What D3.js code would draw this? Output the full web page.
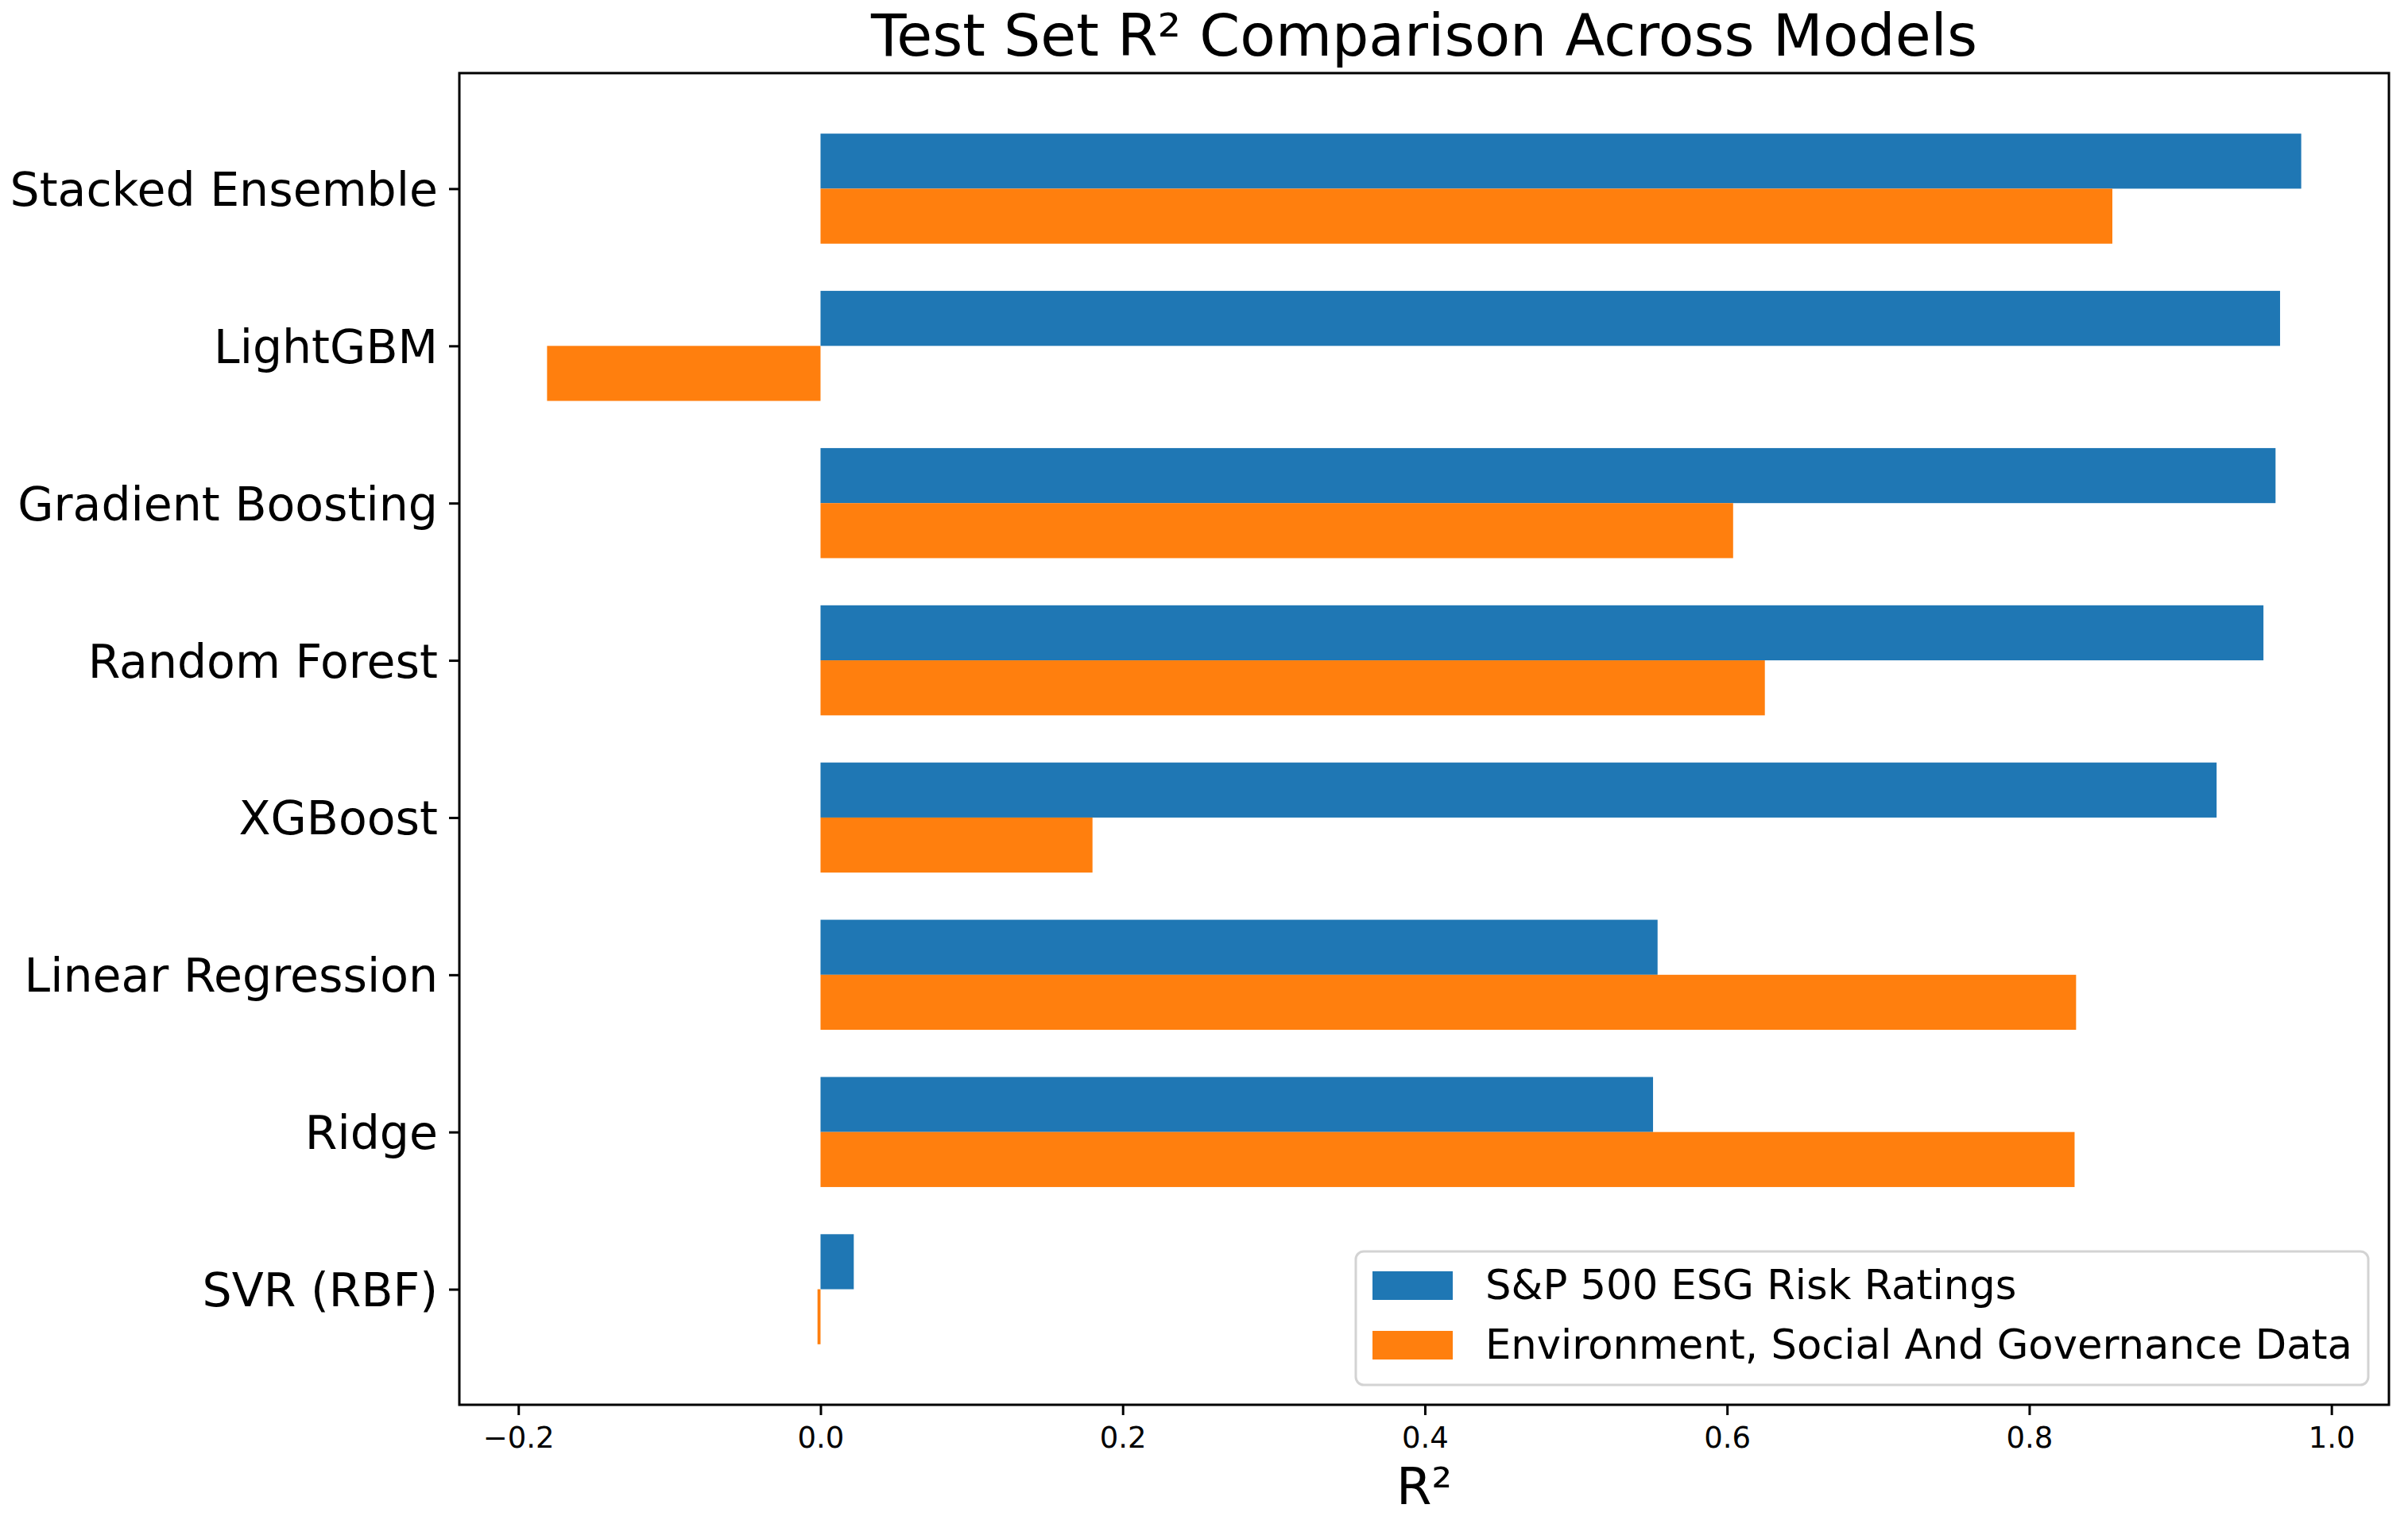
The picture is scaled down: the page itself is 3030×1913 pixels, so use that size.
<!DOCTYPE html>
<html>
<head>
<meta charset="utf-8">
<script src="https://cdn.jsdelivr.net/npm/d3@7"></script>
<style>
  body { margin: 0; background: #fff; }
  text { font-family: "DejaVu Sans", sans-serif; }
</style>
</head>
<body>
<div id="chart"></div>
<script>
var models = ['Stacked Ensemble', 'LightGBM', 'Gradient Boosting', 'Random Forest',
  'XGBoost', 'Linear Regression', 'Ridge', 'SVR (RBF)'];
var spScores = [0.980, 0.966, 0.963, 0.955, 0.924, 0.554, 0.551, 0.022];
var esgScores = [0.855, -0.181, 0.604, 0.625, 0.180, 0.831, 0.830, -0.002];
var seriesNames = ['S&P 500 ESG Risk Ratings', 'Environment, Social And Governance Data'];
var xTicks = [-0.2, 0.0, 0.2, 0.4, 0.6, 0.8, 1.0];

var width = 3030;
var height = 1913;
var margin = { top: 92, right: 24, bottom: 145, left: 578 };
var colors = ['#1f77b4', '#ff7f0e'];
var barH = 0.35;

var svg = d3.select('#chart')
  .append('svg')
  .attr('width', width)
  .attr('height', height)
  .attr('viewBox', [0, 0, width, height]);

// matplotlib-style 5% margins around the data
var lo = d3.min(esgScores.concat(spScores, [0]));
var hi = d3.max(esgScores.concat(spScores, [0]));
var pad = (hi - lo) * 0.05;

var x = d3.scaleLinear()
  .domain([lo - pad, hi + pad])
  .range([margin.left, width - margin.right]);

var yPad = (models.length - 1 + 2 * barH) * 0.05;
var y = d3.scaleLinear()
  .domain([-barH - yPad, models.length - 1 + barH + yPad])
  .range([margin.top, height - margin.bottom]);

var series = [spScores, esgScores];

series.forEach(function (vals, s) {
  svg.append('g')
    .attr('fill', colors[s])
    .selectAll('rect')
    .data(vals)
    .join('rect')
    .attr('x', d => x(Math.min(0, d)))
    .attr('width', d => Math.abs(x(d) - x(0)))
    .attr('y', (d, i) => y(i - barH + s * barH))
    .attr('height', y(barH) - y(0));
});

// frame
svg.append('rect')
  .attr('x', margin.left)
  .attr('y', margin.top)
  .attr('width', width - margin.left - margin.right)
  .attr('height', height - margin.top - margin.bottom)
  .attr('fill', 'none')
  .attr('stroke', '#000')
  .attr('stroke-width', 3);

function xAxis(g) {
  g.attr('transform', `translate(0, ${height - margin.bottom})`)
    .call(d3.axisBottom(x).tickValues(xTicks).tickFormat(d3.format('.1f'))
      .tickSize(13).tickPadding(15))
    .attr('font-size', '37px')
    .attr('font-family', 'DejaVu Sans');
  g.select('.domain').remove();
  g.selectAll('.tick line').attr('stroke-width', 3);
}

function yAxis(g) {
  g.attr('transform', `translate(${margin.left}, 0)`)
    .call(d3.axisLeft(y).tickValues(d3.range(models.length)).tickFormat(i => models[i])
      .tickSize(13).tickPadding(14))
    .attr('font-size', '58.5px')
    .attr('font-family', 'DejaVu Sans');
  g.select('.domain').remove();
  g.selectAll('.tick line').attr('stroke-width', 3);
  g.selectAll('.tick text').attr('dy', '0.36em');
}

svg.append('g').call(xAxis);
svg.append('g').call(yAxis);

var cx = (margin.left + width - margin.right) / 2;

svg.append('text')
  .attr('x', cx)
  .attr('y', 70)
  .attr('text-anchor', 'middle')
  .attr('font-size', '73px')
  .text('Test Set R² Comparison Across Models');

svg.append('text')
  .attr('x', cx)
  .attr('y', 1893)
  .attr('text-anchor', 'middle')
  .attr('font-size', '64px')
  .text('R²');

// legend
var legend = svg.append('g').attr('transform', 'translate(1706, 1575)');
legend.append('rect')
  .attr('width', 1274)
  .attr('height', 168)
  .attr('rx', 10)
  .attr('fill', '#fff')
  .attr('fill-opacity', 0.8)
  .attr('stroke', '#d3d3d3')
  .attr('stroke-width', 3);

var items = legend.selectAll('g.item')
  .data(seriesNames)
  .join('g')
  .attr('class', 'item')
  .attr('transform', (d, i) => `translate(0, ${i * 75})`);

items.append('rect')
  .attr('x', 21)
  .attr('y', 25)
  .attr('width', 101)
  .attr('height', 36)
  .attr('fill', (d, i) => colors[i]);

items.append('text')
  .attr('x', 163)
  .attr('y', 60)
  .attr('font-size', '51.2px')
  .text(d => d);
</script>
</body>
</html>
